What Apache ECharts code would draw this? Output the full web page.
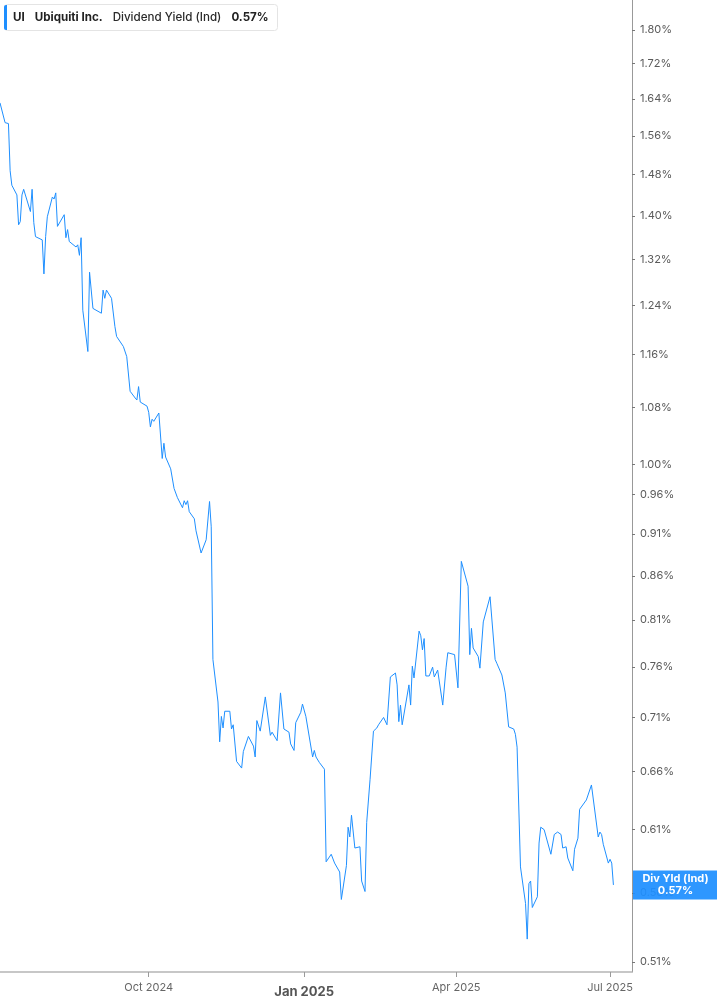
<!DOCTYPE html>
<html lang="en" style="height: 100%">
  <head>
    <meta charset="utf-8" />
  </head>
  <body style="height: 100%; margin: 0; background: #fff">
    <div id="container" style="height: 100%"></div>

    <script
      type="text/javascript"
      src="https://fastly.jsdelivr.net/npm/echarts@6/dist/echarts.min.js"
    ></script>

    <script type="text/javascript">
      // trading dates and the indicated dividend yield (%)
      var dates = [
        "2024-07-05", "2024-07-08", "2024-07-10", "2024-07-11", "2024-07-12", "2024-07-15",
        "2024-07-16", "2024-07-17", "2024-07-18", "2024-07-19", "2024-07-23", "2024-07-24",
        "2024-07-25", "2024-07-26", "2024-07-30", "2024-07-31", "2024-08-01", "2024-08-02",
        "2024-08-05", "2024-08-06", "2024-08-07", "2024-08-08", "2024-08-09", "2024-08-12",
        "2024-08-13", "2024-08-14", "2024-08-15", "2024-08-19", "2024-08-20", "2024-08-21",
        "2024-08-22", "2024-08-23", "2024-08-26", "2024-08-27", "2024-08-29", "2024-08-30",
        "2024-09-03", "2024-09-04", "2024-09-05", "2024-09-06", "2024-09-09", "2024-09-11",
        "2024-09-12", "2024-09-16", "2024-09-18", "2024-09-20", "2024-09-23", "2024-09-24",
        "2024-09-25", "2024-09-26", "2024-09-27", "2024-09-30", "2024-10-01", "2024-10-02",
        "2024-10-03", "2024-10-04", "2024-10-07", "2024-10-09", "2024-10-10", "2024-10-11",
        "2024-10-14", "2024-10-15", "2024-10-16", "2024-10-18", "2024-10-21", "2024-10-22",
        "2024-10-23", "2024-10-24", "2024-10-25", "2024-10-28", "2024-10-29", "2024-10-30",
        "2024-11-01", "2024-11-04", "2024-11-06", "2024-11-07", "2024-11-08", "2024-11-11",
        "2024-11-12", "2024-11-13", "2024-11-14", "2024-11-15", "2024-11-18", "2024-11-19",
        "2024-11-20", "2024-11-22", "2024-11-25", "2024-11-26", "2024-11-29", "2024-12-02",
        "2024-12-03", "2024-12-04", "2024-12-06", "2024-12-09", "2024-12-12", "2024-12-13",
        "2024-12-16", "2024-12-18", "2024-12-20", "2024-12-23", "2024-12-24", "2024-12-26",
        "2024-12-27", "2024-12-30", "2024-12-31", "2025-01-02", "2025-01-06", "2025-01-07",
        "2025-01-08", "2025-01-10", "2025-01-13", "2025-01-14", "2025-01-15", "2025-01-17",
        "2025-01-19", "2025-01-22", "2025-01-23", "2025-01-24", "2025-01-26", "2025-01-27",
        "2025-01-28", "2025-01-29", "2025-01-31", "2025-02-01", "2025-02-03", "2025-02-04",
        "2025-02-06", "2025-02-07", "2025-02-09", "2025-02-11", "2025-02-13", "2025-02-14",
        "2025-02-17", "2025-02-19", "2025-02-21", "2025-02-24", "2025-02-25", "2025-02-26",
        "2025-02-27", "2025-02-28", "2025-03-04", "2025-03-05", "2025-03-06", "2025-03-07",
        "2025-03-10", "2025-03-11", "2025-03-12", "2025-03-13", "2025-03-14", "2025-03-16",
        "2025-03-18", "2025-03-19", "2025-03-21", "2025-03-24", "2025-03-26", "2025-03-27",
        "2025-03-31", "2025-04-02", "2025-04-04", "2025-04-08", "2025-04-09", "2025-04-10",
        "2025-04-11", "2025-04-14", "2025-04-15", "2025-04-17", "2025-04-21", "2025-04-24",
        "2025-04-25", "2025-04-28", "2025-04-30", "2025-05-02", "2025-05-05", "2025-05-06",
        "2025-05-07", "2025-05-09", "2025-05-12", "2025-05-13", "2025-05-14", "2025-05-15",
        "2025-05-16", "2025-05-19", "2025-05-20", "2025-05-21", "2025-05-23", "2025-05-27",
        "2025-05-29", "2025-05-31", "2025-06-02", "2025-06-03", "2025-06-05", "2025-06-06",
        "2025-06-09", "2025-06-10", "2025-06-12", "2025-06-13", "2025-06-17", "2025-06-20",
        "2025-06-24", "2025-06-25", "2025-06-26", "2025-06-27", "2025-06-30", "2025-07-01",
        "2025-07-02", "2025-07-03"
      ];
      var yields = [
        1.631, 1.588, 1.586, 1.488, 1.459, 1.44,
        1.383, 1.389, 1.44, 1.451, 1.408, 1.451,
        1.387, 1.361, 1.355, 1.294, 1.361, 1.398,
        1.436, 1.432, 1.444, 1.38, 1.38, 1.402,
        1.359, 1.374, 1.352, 1.342, 1.346, 1.327,
        1.359, 1.232, 1.165, 1.297, 1.235, 1.238,
        1.227, 1.266, 1.252, 1.266, 1.252, 1.205,
        1.189, 1.173, 1.157, 1.104, 1.094, 1.091,
        1.111, 1.088, 1.089, 1.082, 1.073, 1.052,
        1.063, 1.06, 1.072, 1.008, 1.029, 1.01,
        0.994, 0.995, 0.968, 0.956, 0.943, 0.952,
        0.947, 0.952, 0.938, 0.929, 0.914, 0.913,
        0.887, 0.903, 0.951, 0.919, 0.768, 0.725,
        0.687, 0.711, 0.7, 0.716, 0.716, 0.699,
        0.703, 0.669, 0.663, 0.678, 0.692, 0.683,
        0.673, 0.707, 0.697, 0.73, 0.693, 0.696,
        0.688, 0.734, 0.699, 0.696, 0.685, 0.679,
        0.705, 0.715, 0.723, 0.711, 0.673, 0.679,
        0.673, 0.668, 0.662, 0.584, 0.583, 0.59,
        0.583, 0.576, 0.555, 0.556, 0.581, 0.612,
        0.604, 0.622, 0.595, 0.594, 0.596, 0.569,
        0.561, 0.616, 0.653, 0.697, 0.7, 0.703,
        0.71, 0.703, 0.75, 0.754, 0.742, 0.706,
        0.722, 0.703, 0.742, 0.722, 0.761, 0.749,
        0.798, 0.793, 0.778, 0.79, 0.751, 0.751,
        0.76, 0.75, 0.757, 0.722, 0.76, 0.775,
        0.773, 0.739, 0.877, 0.848, 0.773, 0.801,
        0.78, 0.771, 0.759, 0.808, 0.836, 0.768,
        0.764, 0.752, 0.734, 0.701, 0.699, 0.694,
        0.682, 0.58, 0.552, 0.526, 0.567, 0.569,
        0.549, 0.557, 0.599, 0.612, 0.61, 0.59,
        0.606, 0.608, 0.606, 0.595, 0.596, 0.587,
        0.577, 0.594, 0.603, 0.627, 0.635, 0.648,
        0.604, 0.608, 0.606, 0.598, 0.583, 0.586,
        0.583, 0.566
      ];

      var yTicks = [
        0.51, 0.56, 0.61, 0.66, 0.71, 0.76, 0.81, 0.86, 0.91, 0.96, 1.0,
        1.08, 1.16, 1.24, 1.32, 1.4, 1.48, 1.56, 1.64, 1.72, 1.8
      ];
      var xTickDates = ["2024-10-01", "2025-01-01", "2025-04-01", "2025-07-01"];
      var xTickLabels = ["Oct 2024", "Jan 2025", "Apr 2025", "Jul 2025"];

      var ticker = "UI";
      var company = "Ubiquiti Inc.";
      var metric = "Dividend Yield (Ind)";
      var shortMetric = "Div Yld (Ind)";

      function toTime(s) {
        var p = s.split("-");
        return +new Date(+p[0], +p[1] - 1, +p[2]);
      }

      var lineColor = "#1e8fff";
      var font = "Inter, 'Noto Sans', sans-serif";
      var last = yields[yields.length - 1];
      var lastText = last.toFixed(2) + "%";

      var dom = document.getElementById("container");
      var myChart = echarts.init(dom, null, { renderer: "canvas" });

      var xTickTimes = xTickDates.map(toTime);

      var option = {
        animation: false,
        backgroundColor: "#fff",
        grid: { left: 0, right: 85, top: 0, bottom: 33, containLabel: false },
        xAxis: {
          // dates as timestamps on a plain value axis so the four ticks can be placed exactly
          type: "value",
          min: toTime("2024-07-05"),
          max: toTime("2025-07-14"),
          axisLine: { lineStyle: { color: "#b5b5b5", width: 1.5 } },
          axisTick: {
            show: true,
            length: 5,
            lineStyle: { color: "#9a9a9a" },
            customValues: xTickTimes,
          },
          splitLine: { show: false },
          axisLabel: {
            customValues: xTickTimes,
            margin: 10,
            color: "#666",
            fontSize: 11,
            fontFamily: font,
            formatter: function (v) {
              var i = xTickTimes.indexOf(v);
              if (i < 0) return "";
              return xTickLabels[i] === "Jan 2025"
                ? "{b|" + xTickLabels[i] + "}"
                : xTickLabels[i];
            },
            rich: {
              b: {
                fontSize: 13,
                fontWeight: "bold",
                color: "#555",
                fontFamily: font,
                padding: [4, 0, 0, 0],
              },
            },
          },
        },
        yAxis: {
          type: "log",
          logBase: 10,
          position: "right",
          min: 0.5031,
          max: 1.8747,
          axisLine: { show: true, lineStyle: { color: "#999", width: 1 } },
          axisTick: {
            show: true,
            length: 3,
            lineStyle: { color: "#777" },
            customValues: yTicks,
          },
          splitLine: { show: false },
          axisLabel: {
            customValues: yTicks,
            margin: 8,
            color: "#5a5a5a",
            fontSize: 11,
            fontFamily: font,
            formatter: function (v) {
              return v.toFixed(2) + "%";
            },
          },
        },
        series: [
          {
            type: "line",
            data: dates.map(function (d, i) {
              return [toTime(d), yields[i]];
            }),
            showSymbol: false,
            symbol: "none",
            lineStyle: { color: lineColor, width: 1 },
            silent: true,
            z: 3,
          },
        ],
        graphic: [
          {
            id: "legendBox",
            type: "rect",
            shape: { x: 4.5, y: 4.5, width: 273, height: 26, r: 3 },
            style: { fill: "#fff", stroke: "#e4e4e4", lineWidth: 1 },
            z: 10,
          },
          {
            id: "legendBar",
            type: "rect",
            shape: { x: 4, y: 5, width: 3, height: 25, r: [2, 0, 0, 2] },
            style: { fill: lineColor },
            z: 11,
          },
          {
            id: "legendText",
            type: "text",
            x: 13,
            y: 17.5,
            style: {
              text:
                "{b|" + ticker + "}{g|}{b|" + company + "}{g|}{n|" + metric +
                "}{g|}{b|" + lastText + "}",
              verticalAlign: "middle",
              rich: {
                b: { fontFamily: font, fontSize: 11.6, fontWeight: "bold", fill: "#222" },
                n: { fontFamily: font, fontSize: 11.6, fontWeight: 500, fill: "#2a2a2a" },
                g: { width: 10 },
              },
            },
            z: 11,
          },
        ],
      };

      myChart.setOption(option);

      // tag with the latest value, placed on the axis via the chart's own scale
      var pt = myChart.convertToPixel({ gridIndex: 0 }, [
        toTime(dates[dates.length - 1]),
        last,
      ]);
      var axisX = myChart.getWidth() - 85;
      myChart.setOption({
        graphic: [
          {
            id: "lastBox",
            type: "rect",
            shape: { x: axisX + 1, y: pt[1] - 14.5, width: 85, height: 29 },
            style: { fill: "rgba(30,143,255,0.93)" },
            z: 20,
          },
          {
            id: "lastText",
            type: "text",
            x: axisX + 1 + 42.5,
            y: pt[1],
            style: {
              text: shortMetric + "\n" + lastText,
              align: "center",
              verticalAlign: "middle",
              fill: "#fff",
              fontFamily: font,
              fontSize: 11,
              fontWeight: "bold",
              lineHeight: 12,
            },
            z: 21,
          },
        ],
      });

      window.addEventListener("resize", myChart.resize);
    </script>
  </body>
</html>
